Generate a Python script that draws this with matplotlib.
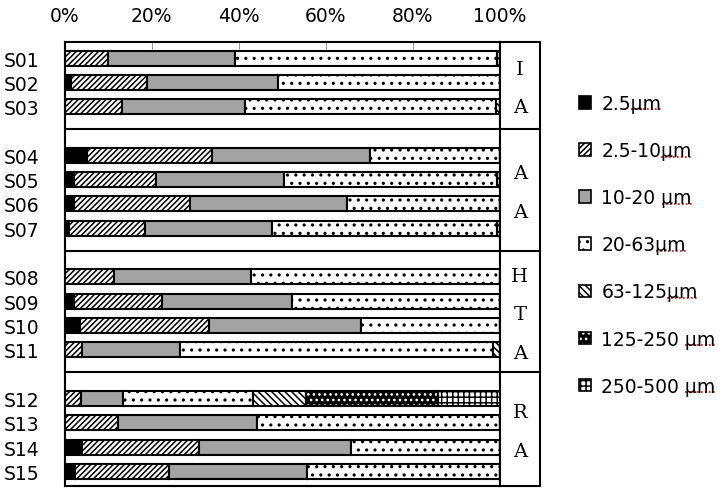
import numpy as np
import matplotlib.pyplot as plt
from matplotlib.patches import Patch
from matplotlib.legend_handler import HandlerTuple
from matplotlib.lines import Line2D

plt.rcParams['font.family'] = ['DejaVu Sans']
plt.rcParams['hatch.linewidth'] = 1.1

# sample names and area groups (letters in the right-hand column)
samples = ["S01", "S02", "S03", "S04", "S05", "S06", "S07", "S08",
           "S09", "S10", "S11", "S12", "S13", "S14", "S15"]
group_sizes = [3, 4, 4, 4]
group_letters = [["I", "A"], ["A", "A"], ["H", "T", "A"], ["R", "A"]]

# percentage of each size class
pm25 = [0, 1.4, 0, 5.0, 2.1, 2.1, 1.0, 0, 2.1, 3.6, 0, 0, 0, 3.9, 2.3]
pm25_10 = [10.0, 17.4, 13.2, 28.9, 18.8, 26.7, 17.4, 11.4, 20.3, 29.5, 4.0, 3.7, 12.3, 27.0, 21.7]
pm10_20 = [29.1, 30.3, 28.2, 36.3, 29.6, 36.2, 29.2, 31.3, 29.8, 35.1, 22.5, 9.7, 31.8, 34.9, 31.7]
pm20_63 = [60.3, 50.9, 57.7, 29.8, 48.9, 35.0, 51.8, 57.3, 47.8, 31.8, 72.0, 29.9, 55.9, 34.2, 44.3]
pm63_125 = [0.6, 0, 0.9, 0, 0.6, 0, 0.6, 0, 0, 0, 1.5, 12.1, 0, 0, 0]
pm125_250 = [0, 0, 0, 0, 0, 0, 0, 0, 0, 0, 0, 30.3, 0, 0, 0]
pm250_500 = [0, 0, 0, 0, 0, 0, 0, 0, 0, 0, 0, 14.3, 0, 0, 0]

class_labels = ["2.5\u03bcm", "2.5-10\u03bcm", "10-20 \u03bcm", "20-63\u03bcm",
                "63-125\u03bcm", "125-250 \u03bcm", "250-500 \u03bcm"]
series = [pm25, pm25_10, pm10_20, pm20_63, pm63_125, pm125_250, pm250_500]

# (face, hatch, hatch colour)
styles = [
    ("black", None, "black"),
    ("white", "//////", "black"),
    ("#a3a3a3", None, "black"),
    ("white", "..", "black"),
    ("white", "\\\\\\\\\\", "black"),
    ("black", "...", "white"),
    ("white", "+++", "black"),
]

# row positions: one blank row between groups
ypos = []
seps = []
row = 0
for gi, n in enumerate(group_sizes):
    if gi > 0:
        seps.append(row - 0.07)
        row += 1
    ypos.extend(range(row, row + n))
    row += n
ypos = np.array(ypos, dtype=float)

W, H = 724, 489
fig = plt.figure(figsize=(W / 100, H / 100), dpi=100)
x0, x1, xr = 64.8, 499.7, 540
ytop, ybot = 43, 487
ax = fig.add_axes([x0 / W, 1 - ybot / H, (x1 - x0) / W, (ybot - ytop) / H])
lab = fig.add_axes([x1 / W, 1 - ybot / H, (xr - x1) / W, (ybot - ytop) / H], sharey=ax)

bar_h = 0.62
left = np.zeros(len(samples))
for vals, (fc, hatch, hc) in zip(series, styles):
    vals = np.array(vals, dtype=float)
    ax.barh(ypos, vals, left=left, height=bar_h, color=fc, hatch=hatch,
            edgecolor=hc, linewidth=0 if hc == "white" else 1.5, zorder=2)
    if hc == "white":
        ax.barh(ypos, vals, left=left, height=bar_h, fill=False,
                edgecolor="black", linewidth=1.5, zorder=3)
    left += vals

ax.set_xlim(0, 100)
ax.set_ylim(ypos[-1] + 0.6, -0.66)
ax.set_yticks(ypos)
ax.set_yticklabels(samples, fontsize=13.5)
ax.tick_params(axis="y", length=0, pad=18)
ax.xaxis.tick_top()
ax.set_xticks(np.arange(0, 101, 20))
ax.set_xticklabels([f"{v}%" for v in range(0, 101, 20)], fontsize=13.5)
ax.tick_params(axis="x", direction="in", length=5, color="#999999", pad=12)
for s in ax.spines.values():
    s.set_linewidth(1.5)
for y in seps:
    ax.axhline(y, color="black", lw=1.5, zorder=4)
    lab.axhline(y, color="black", lw=1.5, zorder=4)

# right-hand area letters
lab.set_xlim(0, 1)
lab.set_xticks([])
lab.tick_params(axis="y", left=False, labelleft=False)
for s in lab.spines.values():
    s.set_linewidth(1.5)
bounds = [-0.66] + seps + [ypos[-1] + 0.6]
for gi, letters in enumerate(group_letters):
    mid = (bounds[gi] + bounds[gi + 1]) / 2 + 0.1
    n = len(letters)
    for k, ch in enumerate(letters):
        lab.text(0.5, mid + (k - (n - 1) / 2) * 1.58, ch, ha="center", va="center",
                 fontsize=14, family="DejaVu Serif")

# legend
handles = []
for fc, hatch, hc in styles:
    if hc == "white":
        handles.append((Patch(facecolor=fc, hatch=hatch, edgecolor=hc, linewidth=0),
                        Patch(fill=False, edgecolor="black", linewidth=1.2)))
    else:
        handles.append(Patch(facecolor=fc, hatch=hatch, edgecolor="black", linewidth=1.2))
leg = fig.legend(handles, class_labels, loc="upper left", bbox_to_anchor=(562 / W, 1 - 78 / H),
                 frameon=False, fontsize=13.5, handlelength=0.65, handleheight=0.65,
                 handletextpad=0.55, labelspacing=1.5,
                 handler_map={tuple: HandlerTuple(ndivide=1, pad=0)})

# red dotted spell-check underline under "μm" in the legend
fig.canvas.draw()
rend = fig.canvas.get_renderer()
tmp = fig.text(0, 0, "\u03bcm", fontsize=13.5)
um_w = tmp.get_window_extent(rend).width
tmp.remove()
for t in leg.get_texts():
    bb = t.get_window_extent(rend)
    y = (bb.y0 + 3.5) / H
    fig.add_artist(Line2D([(bb.x1 - um_w) / W, bb.x1 / W], [y, y], color="#d42020",
                          lw=1.3, ls=(0, (1, 1.2)), transform=fig.transFigure))

fig.savefig("out.png", dpi=100)
